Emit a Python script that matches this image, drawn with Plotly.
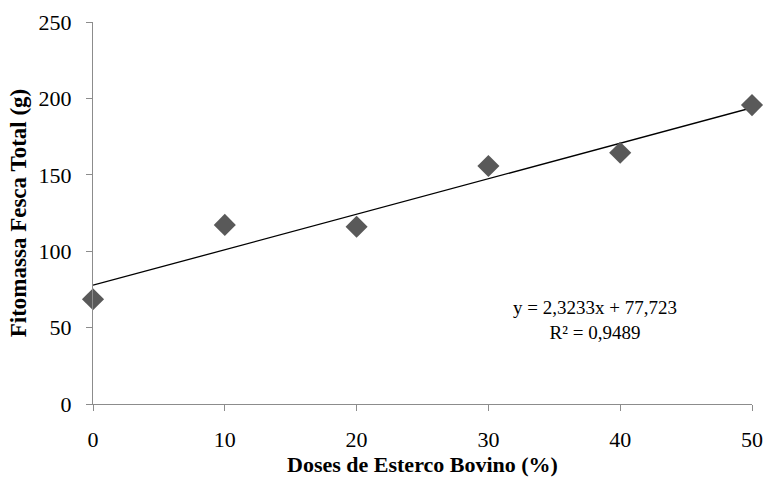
import plotly.graph_objects as go

# Doses of cattle manure (%) and total fresh phytomass (g)
doses = [0, 10, 20, 30, 40, 50]
fitomassa = [68.6, 117.2, 116.0, 155.8, 164.4, 195.6]

# Linear fit reported for the data
slope = 2.3233
intercept = 77.723
r2 = 0.9489

x_tick_vals = [0, 10, 20, 30, 40, 50]
y_tick_vals = [0, 50, 100, 150, 200, 250]

serif = "Liberation Serif, Times New Roman, serif"

fit_x = [min(doses), max(doses)]
fit_y = [intercept + slope * v for v in fit_x]

fig = go.Figure()
fig.add_trace(go.Scatter(
    x=fit_x, y=fit_y, mode="lines",
    line=dict(color="#000000", width=1.3),
    hoverinfo="skip", showlegend=False, cliponaxis=False,
))
fig.add_trace(go.Scatter(
    x=doses, y=fitomassa, mode="markers",
    marker=dict(symbol="diamond", size=17, color="#595959",
                line=dict(width=0)),
    showlegend=False, cliponaxis=False,
))

fig.add_annotation(
    x=38.1, y=55, xref="x", yref="y",
    text="y = 2,3233x + 77,723<br>R² = 0,9489",
    showarrow=False, align="center",
    font=dict(family=serif, size=19, color="#000000"),
)

axis_common = dict(
    showgrid=False, zeroline=False, automargin=False,
    showline=True, linecolor="#8c8c8c", linewidth=1,
    ticks="outside", ticklen=6, tickcolor="#8c8c8c", tickwidth=1,
    tickfont=dict(family=serif, size=22, color="#000000"),
)

fig.update_layout(
    width=765, height=477,
    margin=dict(l=93, r=13, t=22, b=73),
    paper_bgcolor="#ffffff", plot_bgcolor="#ffffff",
    xaxis=dict(
        range=[0, 50], tickvals=x_tick_vals,
        ticklabelstandoff=10,
        title=dict(text="<b>Doses de Esterco Bovino (%)</b>",
                   font=dict(family=serif, size=22, color="#000000"),
                   standoff=6),
        **axis_common,
    ),
    yaxis=dict(
        range=[0, 250], tickvals=y_tick_vals,
        ticklabelstandoff=10,
        title=dict(text="<b>Fitomassa Fesca Total (g)</b>",
                   font=dict(family=serif, size=23, color="#000000"),
                   standoff=5),
        **axis_common,
    ),
)

fig.write_html("out.html")
